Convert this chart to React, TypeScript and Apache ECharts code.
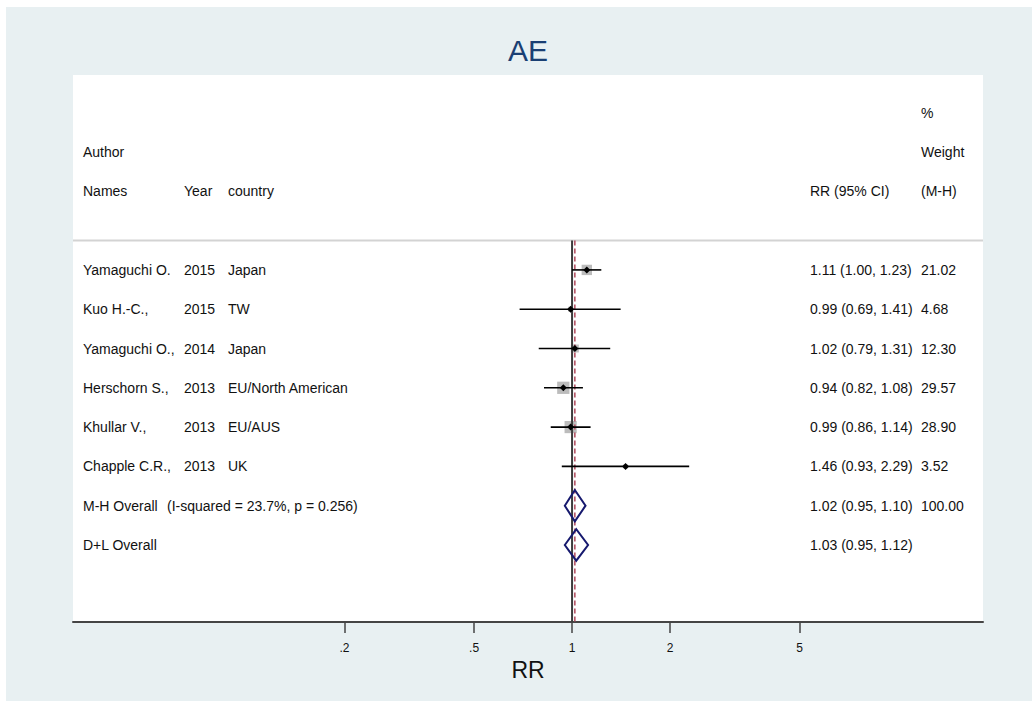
import React, { useEffect, useRef } from "react";
import * as echarts from "echarts";

// ---- data ----
const studyNames = ["Yamaguchi O.", "Kuo H.-C.,", "Yamaguchi O.,", "Herschorn S.,", "Khullar V.,", "Chapple C.R.,"];
const studyYears = ["2015", "2015", "2014", "2013", "2013", "2013"];
const studyCountries = ["Japan", "TW", "Japan", "EU/North American", "EU/AUS", "UK"];
const studyRR = [1.11, 0.99, 1.02, 0.94, 0.99, 1.46];
const studyLo = [1.0, 0.69, 0.79, 0.82, 0.86, 0.93];
const studyHi = [1.23, 1.41, 1.31, 1.08, 1.14, 2.29];
const studyWeights = [21.02, 4.68, 12.3, 29.57, 28.9, 3.52];

const overallLabels = ["M-H Overall", "D+L Overall"];
const overallNotes = ["(I-squared = 23.7%, p = 0.256)", ""];
const overallRR = [1.02, 1.03];
const overallLo = [0.95, 0.95];
const overallHi = [1.1, 1.12];
const overallWeights = ["100.00", ""];

const tickValues = [0.2, 0.5, 1, 2, 5];
const tickLabels = [".2", ".5", "1", "2", "5"];

const headerRows = {
  pct: "%",
  author: "Author",
  weight: "Weight",
  names: "Names",
  year: "Year",
  country: "country",
  rr: "RR (95% CI)",
  mh: "(M-H)",
};

// ---- layout ----
const FONT = "'Liberation Sans', Arial, Helvetica, sans-serif";
const GRID_L = 73;
const GRID_T = 75;
const GRID_W = 910;
const GRID_H = 547;
const Y_MIN = -4.96;
const Y_MAX = 8.96;
const SEP_ROW = -0.75;
const COL = { name: 10, note: 94, year: 111, country: 155, rr: 737, wt: 848 };

const ln = Math.log;
const fmt = (v: number) => v.toFixed(2);

export default function App() {
  const ref = useRef<HTMLDivElement>(null);

  useEffect(() => {
    if (!ref.current) return;
    const chart = echarts.init(ref.current, undefined, { renderer: "svg" });

    // text table items: [x, row, text]
    const texts: any[] = [];
    texts.push([COL.wt, -4, headerRows.pct]);
    texts.push([COL.name, -3, headerRows.author]);
    texts.push([COL.wt, -3, headerRows.weight]);
    texts.push([COL.name, -2, headerRows.names]);
    texts.push([COL.year, -2, headerRows.year]);
    texts.push([COL.country, -2, headerRows.country]);
    texts.push([COL.rr, -2, headerRows.rr]);
    texts.push([COL.wt, -2, headerRows.mh]);
    studyNames.forEach((n, i) => {
      texts.push([COL.name, i, n]);
      texts.push([COL.year, i, studyYears[i]]);
      texts.push([COL.country, i, studyCountries[i]]);
      texts.push([COL.rr, i, `${fmt(studyRR[i])} (${fmt(studyLo[i])}, ${fmt(studyHi[i])})`]);
      texts.push([COL.wt, i, fmt(studyWeights[i])]);
    });
    overallLabels.forEach((n, j) => {
      const row = studyNames.length + j;
      texts.push([COL.name, row, n]);
      if (overallNotes[j]) texts.push([COL.note, row, overallNotes[j]]);
      texts.push([COL.rr, row, `${fmt(overallRR[j])} (${fmt(overallLo[j])}, ${fmt(overallHi[j])})`]);
      if (overallWeights[j]) texts.push([COL.wt, row, overallWeights[j]]);
    });

    const studyData = studyNames.map((_, i) => [ln(studyLo[i]), ln(studyHi[i]), ln(studyRR[i]), i, studyWeights[i]]);
    const overallData = overallLabels.map((_, j) => [ln(overallLo[j]), ln(overallHi[j]), ln(overallRR[j]), studyNames.length + j]);
    const refLines = [
      [0, SEP_ROW, Y_MAX, 0],
      [ln(overallRR[0]), SEP_ROW, Y_MAX, 1],
    ];

    const tickFormatter = (v: number) => {
      const i = tickValues.findIndex((t) => Math.abs(ln(t) - v) < 1e-6);
      return i >= 0 ? tickLabels[i] : "";
    };

    chart.setOption({
      animation: false,
      backgroundColor: "transparent",
      graphic: [
        {
          type: "text",
          x: 528,
          y: 50,
          style: {
            text: "AE",
            fontSize: 30,
            fontFamily: FONT,
            fill: "#1a3f73",
            align: "center",
            verticalAlign: "middle",
          },
        },
      ],
      grid: {
        left: GRID_L,
        top: GRID_T,
        width: GRID_W,
        height: GRID_H,
        show: true,
        backgroundColor: "#ffffff",
        borderWidth: 0,
      },
      xAxis: [
        {
          type: "value",
          min: ln(0.0293),
          max: ln(18.3),
          position: "bottom",
          name: "RR",
          nameLocation: "middle",
          nameGap: 34,
          nameTextStyle: { fontSize: 23, color: "#111", fontFamily: FONT },
          axisLine: { show: true, onZero: false, lineStyle: { color: "#454545", width: 2 } },
          axisTick: {
            show: true,
            length: 11,
            customValues: tickValues.map((t) => ln(t)),
            lineStyle: { color: "#454545", width: 1.5 },
          },
          axisLabel: {
            show: true,
            customValues: tickValues.map((t) => ln(t)),
            formatter: tickFormatter,
            fontSize: 12,
            color: "#111",
            fontFamily: FONT,
            margin: 20,
          },
          splitLine: { show: false },
        },
        {
          type: "value",
          min: 0,
          max: GRID_W,
          show: false,
          gridIndex: 0,
        },
      ],
      yAxis: {
        type: "value",
        inverse: true,
        min: Y_MIN,
        max: Y_MAX,
        show: false,
      },
      series: [
        {
          type: "custom",
          xAxisIndex: 1,
          data: [[0, SEP_ROW]],
          renderItem: (_p: any, api: any) => {
            const a = api.coord([0, SEP_ROW]);
            const b = api.coord([GRID_W, SEP_ROW]);
            return {
              type: "line",
              shape: { x1: a[0], y1: a[1], x2: b[0], y2: b[1] },
              style: { stroke: "#d3d3d3", lineWidth: 2 },
            };
          },
          z: 1,
        },
        {
          type: "custom",
          data: studyData,
          encode: { x: 2, y: 3 },
          renderItem: (_p: any, api: any) => {
            const c = api.coord([api.value(2), api.value(3)]);
            const s = 2.26 * Math.sqrt(api.value(4));
            return {
              type: "rect",
              shape: { x: c[0] - s / 2, y: c[1] - s / 2, width: s, height: s },
              style: { fill: "#bcbcbc" },
            };
          },
          z: 2,
        },
        {
          type: "custom",
          data: refLines,
          encode: { x: 0, y: 1 },
          renderItem: (_p: any, api: any) => {
            const a = api.coord([api.value(0), api.value(1)]);
            const b = api.coord([api.value(0), api.value(2)]);
            const dashed = api.value(3) === 1;
            return {
              type: "line",
              shape: { x1: a[0], y1: a[1], x2: b[0], y2: b[1] },
              style: dashed
                ? { stroke: "#b04a5c", lineWidth: 1.5, lineDash: [5, 3] }
                : { stroke: "#3c3c3c", lineWidth: 2 },
            };
          },
          z: 3,
        },
        {
          type: "custom",
          data: studyData,
          encode: { x: 2, y: 3 },
          renderItem: (_p: any, api: any) => {
            const row = api.value(3);
            const a = api.coord([api.value(0), row]);
            const b = api.coord([api.value(1), row]);
            const c = api.coord([api.value(2), row]);
            const d = 3.5;
            return {
              type: "group",
              children: [
                {
                  type: "line",
                  shape: { x1: a[0], y1: a[1], x2: b[0], y2: b[1] },
                  style: { stroke: "#000", lineWidth: 1.6 },
                },
                {
                  type: "polygon",
                  shape: {
                    points: [
                      [c[0] - d, c[1]],
                      [c[0], c[1] - d],
                      [c[0] + d, c[1]],
                      [c[0], c[1] + d],
                    ],
                  },
                  style: { fill: "#000" },
                },
              ],
            };
          },
          z: 4,
        },
        {
          type: "custom",
          data: overallData,
          encode: { x: 2, y: 3 },
          renderItem: (_p: any, api: any) => {
            const row = api.value(3);
            const l = api.coord([api.value(0), row]);
            const r = api.coord([api.value(1), row]);
            const t = api.coord([api.value(2), row - 0.4]);
            const btm = api.coord([api.value(2), row + 0.4]);
            return {
              type: "polygon",
              shape: { points: [l, t, r, btm] },
              style: { fill: "none", stroke: "#16196e", lineWidth: 2 },
            };
          },
          z: 4,
        },
        {
          type: "custom",
          xAxisIndex: 1,
          data: texts,
          encode: { x: 0, y: 1 },
          renderItem: (_p: any, api: any) => {
            const p = api.coord([api.value(0), api.value(1)]);
            const idx = _p.dataIndex;
            return {
              type: "text",
              x: p[0],
              y: p[1],
              style: {
                text: texts[idx][2],
                fontSize: 14,
                fontFamily: FONT,
                fill: "#111",
                align: "left",
                verticalAlign: "middle",
              },
            };
          },
          z: 5,
        },
      ],
    });

    return () => chart.dispose();
  }, []);

  return (
    <div style={{ position: "absolute", left: 0, top: 0, width: 1032, height: 701, background: "#ffffff" }}>
      <div style={{ position: "absolute", left: 6, top: 7, width: 1026, height: 694, background: "#e8f0f2" }} />
      <div ref={ref} style={{ position: "absolute", left: 0, top: 0, width: 1032, height: 701 }} />
    </div>
  );
}
